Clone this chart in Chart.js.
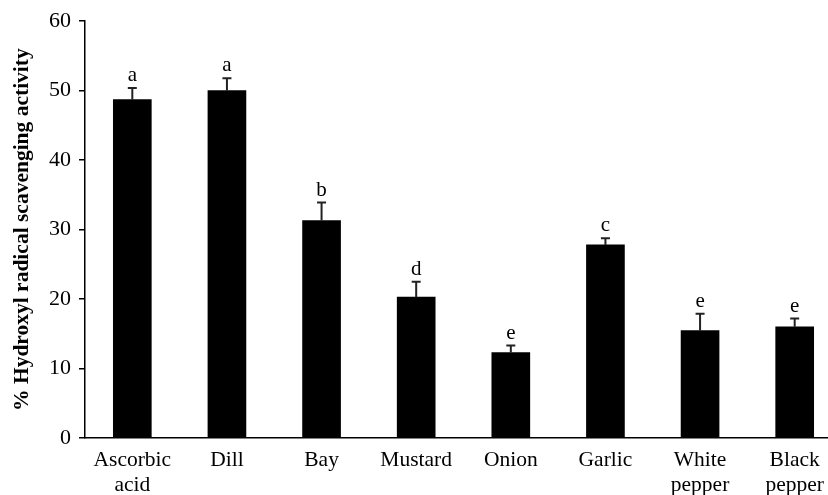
<!DOCTYPE html>
<html>
<head>
<meta charset="utf-8">
<script src="https://cdn.jsdelivr.net/npm/chart.js@4.4.1/dist/chart.umd.min.js"></script>
<style>
  html, body { margin: 0; padding: 0; background: #fff; overflow: hidden; }
  #wrap { width: 842px; height: 495px; }
</style>
</head>
<body>
<div id="wrap"><canvas id="chart" width="842" height="495"></canvas></div>
<script>
// Data
const categories = [['Ascorbic', 'acid'], 'Dill', 'Bay', 'Mustard', 'Onion', 'Garlic', ['White', 'pepper'], ['Black', 'pepper']];
const activity = [48.7, 50.0, 31.3, 20.3, 12.3, 27.8, 15.45, 16.0];
const errorUp = [1.7, 1.8, 2.6, 2.2, 1.0, 0.95, 2.45, 1.2];
const groupLetters = ['a', 'a', 'b', 'd', 'e', 'c', 'e', 'e'];
const yTicks = [0, 10, 20, 30, 40, 50, 60];

const serif = '"Liberation Serif", "Times New Roman", serif';

// error bars + significance letters
const errorBarPlugin = {
    id: 'errorBars',
    afterDatasetsDraw(chart) {
        const { ctx, scales } = chart;
        const meta = chart.getDatasetMeta(0);
        ctx.save();
        meta.data.forEach((bar, i) => {
            const x = bar.x;
            const yTop = scales.y.getPixelForValue(activity[i]);
            const yErr = scales.y.getPixelForValue(activity[i] + errorUp[i]);
            ctx.strokeStyle = '#222';
            ctx.lineWidth = 2;
            ctx.beginPath();
            ctx.moveTo(x, yTop);
            ctx.lineTo(x, yErr);
            ctx.moveTo(x - 4.5, yErr);
            ctx.lineTo(x + 4.5, yErr);
            ctx.stroke();

            ctx.fillStyle = '#000';
            ctx.font = '21px ' + serif;
            ctx.textAlign = 'center';
            ctx.textBaseline = 'alphabetic';
            ctx.fillText(groupLetters[i], x, yErr - 7);
        });
        ctx.restore();
    }
};

const ctx = document.getElementById('chart').getContext('2d');
new Chart(ctx, {
    type: 'bar',
    data: {
        labels: categories,
        datasets: [{
            data: activity,
            backgroundColor: '#000',
            borderWidth: 0,
            barThickness: 38
        }]
    },
    options: {
        responsive: false,
        animation: false,
        layout: { padding: { top: 20, right: 0, left: 0, bottom: 0 } },
        plugins: {
            legend: { display: false },
            tooltip: { enabled: false }
        },
        scales: {
            x: {
                grid: { display: false, drawTicks: false },
                border: { display: true, color: '#000', width: 1.5 },
                ticks: {
                    color: '#000',
                    font: { family: serif, size: 21.5, lineHeight: 1.17 },
                    padding: 10,
                    maxRotation: 0,
                    autoSkip: false
                },
                afterFit(scale) { scale.height = 57; }
            },
            y: {
                min: 0,
                max: 60,
                afterBuildTicks(scale) { scale.ticks = yTicks.map(v => ({ value: v })); },
                grid: { drawOnChartArea: false, drawTicks: true, tickLength: 6, color: '#000', lineWidth: 1.5 },
                border: { display: true, color: '#000', width: 1.5 },
                ticks: {
                    color: '#000',
                    font: { family: serif, size: 22 },
                    padding: 8
                },
                title: {
                    display: true,
                    text: '% Hydroxyl radical scavenging activity',
                    color: '#000',
                    font: { family: serif, size: 21.5, weight: 'bold' },
                    padding: { top: 10, bottom: 0 }
                },
                afterFit(scale) { scale.width = 85; }
            }
        }
    },
    plugins: [errorBarPlugin]
});
</script>
</body>
</html>
